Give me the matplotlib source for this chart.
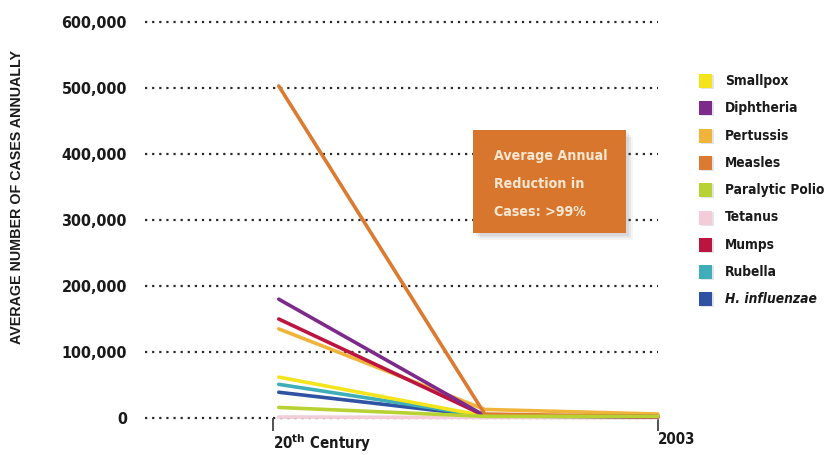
import numpy as np
import matplotlib
matplotlib.use('Agg')
import matplotlib.pyplot as plt
from matplotlib.patches import Rectangle

# data (cases per year)
diseases = ['Smallpox', 'Diphtheria', 'Pertussis', 'Measles', 'Paralytic Polio',
            'Tetanus', 'Mumps', 'Rubella', 'H. influenzae']
colors = ['#F4E41C', '#7D2B8B', '#F1B43A', '#DB7A30', '#B8D234',
          '#F3CCD8', '#BC1440', '#3FAEB8', '#2F52A2']
x_pos = [0.015, 0.55, 1.0]
cases_20th = [62000, 180000, 135000, 503000, 16000, 1500, 150000, 51000, 39000]
cases_mid = [3000, 3500, 13000, 6000, 2500, 800, 3500, 3000, 3000]
cases_2003 = [2000, 2000, 6000, 2000, 2500, 500, 2000, 2000, 2000]
draw_order = ['Tetanus', 'H. influenzae', 'Rubella', 'Smallpox', 'Pertussis',
              'Mumps', 'Diphtheria', 'Measles', 'Paralytic Polio']

yticks = [0, 100000, 200000, 300000, 400000, 500000, 600000]
ytick_labels = ['0', '100,000', '200,000', '300,000', '400,000', '500,000', '600,000']
xtick_labels = [r'20$^{\mathbf{th}}$ Century', '2003']

W, H = 830, 455
fig = plt.figure(figsize=(W / 100, H / 100), dpi=100)
fig.patch.set_facecolor('white')

plt.rcParams['mathtext.fontset'] = 'dejavusans'
cond = dict(family='DejaVu Sans', stretch='condensed', weight='bold')
ink = '#1a1a1a'

# axes in pixel layout: 0 at y=418, 600,000 at y=22, x from 145 to 658
ax = fig.add_axes([145 / W, (H - 418) / H, (658 - 145) / W, (418 - 22) / H])
ax.set_xlim((145 - 273) / 385.0, 1.0)
ax.set_ylim(0, 600000)

for y in yticks:
    ax.axhline(y, color='#2a2a2a', lw=1.6, ls=(0, (1, 2.2)), zorder=1, clip_on=False)

for name in draw_order:
    i = diseases.index(name)
    ax.plot(x_pos, [cases_20th[i], cases_mid[i], cases_2003[i]], color=colors[i],
            lw=2.6, solid_capstyle='round', zorder=3, clip_on=False)

ax.set_yticks(yticks)
ax.set_yticklabels(ytick_labels, fontsize=11.5, color=ink, **cond)
ax.set_xticks([0, 1])
ax.set_xticklabels(xtick_labels, fontsize=10.8, color=ink, ha='left', **cond)
ax.tick_params(axis='y', length=0, pad=13)
ax.tick_params(axis='x', length=9, width=1.2, color='#333333', pad=1)
for s in ax.spines.values():
    s.set_visible(False)

fig.text(17 / W, (H - 197) / H, 'AVERAGE NUMBER OF CASES ANNUALLY', rotation=90,
         ha='center', va='center', family=['Liberation Sans', 'DejaVu Sans'],
         weight='bold', fontsize=10.3, color=ink)

# annotation box with a soft shadow
for k, a in enumerate([0.10, 0.08, 0.06]):
    off = 3 + 2 * k
    fig.patches.append(Rectangle(((473 + off) / W, (H - 233 - off) / H), 153 / W, 103 / H,
                                 transform=fig.transFigure, color='#555566', alpha=a, lw=0))
fig.patches.append(Rectangle((473 / W, (H - 233) / H), 153 / W, 103 / H,
                             transform=fig.transFigure, color='#D9762E', lw=0))
for txt, yy in zip(['Average Annual', 'Reduction in', 'Cases: >99%'], [156, 184, 212]):
    fig.text(494 / W, (H - yy) / H, txt, ha='left', va='center',
             fontsize=10.2, color='#F6E7D2', **cond)

# legend
for i, name in enumerate(diseases):
    yc = 81 + 27.3 * i
    fig.patches.append(Rectangle((701 / W, (H - yc - 8) / H), 13 / W, 14 / H,
                                 transform=fig.transFigure, color='#8899aa', alpha=0.25, lw=0))
    fig.patches.append(Rectangle((699 / W, (H - yc - 7) / H), 13 / W, 14 / H,
                                 transform=fig.transFigure, color=colors[i], lw=0))
    fig.text(725 / W, (H - yc) / H, name, ha='left', va='center',
             fontsize=9.9, color=ink,
             style='italic' if name.startswith('H.') else 'normal', **cond)

fig.savefig('out.png', dpi=100, facecolor='white')
